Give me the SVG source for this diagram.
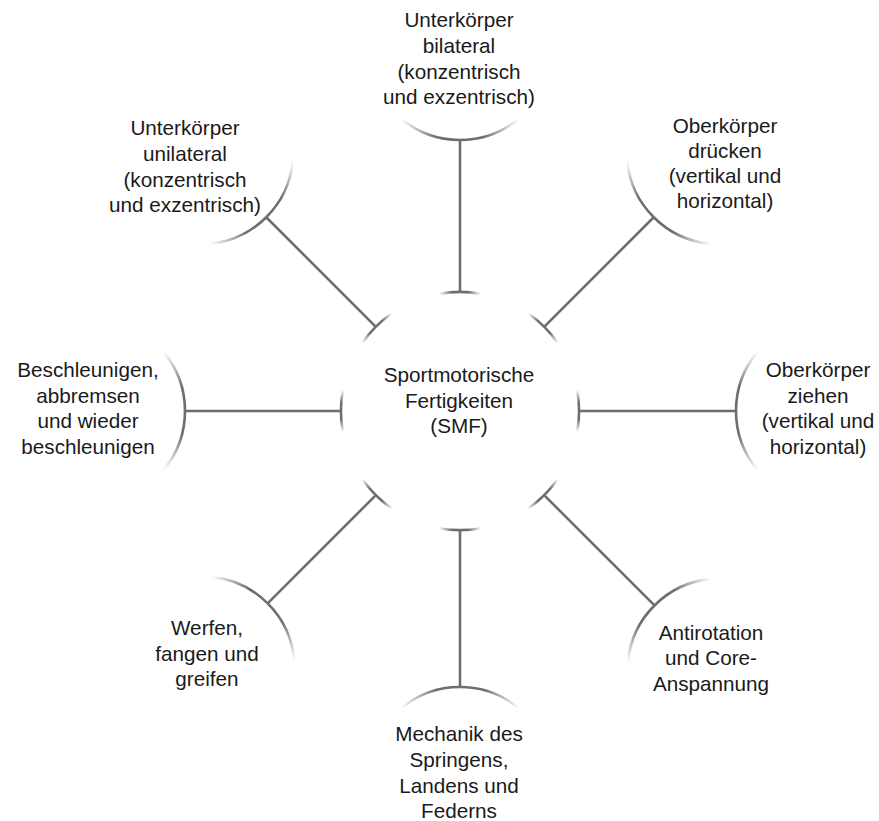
<svg xmlns="http://www.w3.org/2000/svg" width="879" height="821" viewBox="0 0 879 821">
<style>
.t{font-family:"Liberation Sans",Arial,Helvetica,sans-serif;font-size:20.7px;fill:#1a1a1a;text-anchor:middle}
.ln{stroke:#6e6e72;stroke-width:2.6;fill:none}
</style>
<defs>
<linearGradient id="fade" x1="0" y1="0" x2="0" y2="1">
<stop offset="0" stop-color="#6e6e72" stop-opacity="0"/>
<stop offset="0.3" stop-color="#6e6e72"/>
<stop offset="0.7" stop-color="#6e6e72"/>
<stop offset="1" stop-color="#6e6e72" stop-opacity="0"/>
</linearGradient>
<path id="outer" d="M295.5,-59.1 A92,92 0 0 0 295.5,59.1" fill="none" stroke="url(#fade)" stroke-width="2.6"/>
<path id="tick" d="M117.2,-21 A119,119 0 0 1 117.2,21" fill="none" stroke="url(#fade)" stroke-width="2.6"/>
</defs>
<rect width="879" height="821" fill="#ffffff"/>

<g id="connectors">
<g transform="translate(460,411) rotate(-90)"><use href="#tick"/><line class="ln" x1="119" y1="0" x2="271" y2="0"/></g>
<g transform="translate(460,411) rotate(-45)"><use href="#tick"/><line class="ln" x1="119" y1="0" x2="274" y2="0"/></g>
<g transform="translate(460,411) rotate(0)"><use href="#tick"/><line class="ln" x1="119" y1="0" x2="276" y2="0"/></g>
<g transform="translate(460,411) rotate(45)"><use href="#tick"/><line class="ln" x1="119" y1="0" x2="275" y2="0"/></g>
<g transform="translate(460,411) rotate(90)"><use href="#tick"/><line class="ln" x1="119" y1="0" x2="276" y2="0"/></g>
<g transform="translate(460,411) rotate(135)"><use href="#tick"/><line class="ln" x1="119" y1="0" x2="272" y2="0"/></g>
<g transform="translate(460,411) rotate(180)"><use href="#tick"/><line class="ln" x1="119" y1="0" x2="275" y2="0"/></g>
<g transform="translate(460,411) rotate(-135)"><use href="#tick"/><line class="ln" x1="119" y1="0" x2="274" y2="0"/></g>
</g>

<g id="center">
<text class="t" x="459" y="382">Sportmotorische</text>
<text class="t" x="459" y="408">Fertigkeiten</text>
<text class="t" x="459" y="433">(SMF)</text>
</g>

<g id="n-top">
<use href="#outer" transform="translate(460,411) rotate(-90) translate(-3,0)"/>
<text class="t" x="459" y="27">Unterkörper</text>
<text class="t" x="459" y="53">bilateral</text>
<text class="t" x="459" y="79">(konzentrisch</text>
<text class="t" x="459" y="104">und exzentrisch)</text>
</g>

<g id="n-upper-right">
<use href="#outer" transform="translate(460,411) rotate(-45)"/>
<text class="t" x="725" y="133">Oberkörper</text>
<text class="t" x="725" y="158">drücken</text>
<text class="t" x="725" y="183">(vertikal und</text>
<text class="t" x="725" y="208">horizontal)</text>
</g>

<g id="n-right">
<use href="#outer" transform="translate(460,411) rotate(0) translate(2,0)"/>
<text class="t" x="818" y="377">Oberkörper</text>
<text class="t" x="818" y="403">ziehen</text>
<text class="t" x="818" y="428">(vertikal und</text>
<text class="t" x="818" y="454">horizontal)</text>
</g>

<g id="n-lower-right">
<use href="#outer" transform="translate(460,411) rotate(45) translate(1,0)"/>
<text class="t" x="711" y="640">Antirotation</text>
<text class="t" x="711" y="665">und Core-</text>
<text class="t" x="711" y="691">Anspannung</text>
</g>

<g id="n-bottom">
<use href="#outer" transform="translate(460,411) rotate(90) translate(2,0)"/>
<text class="t" x="459" y="741">Mechanik des</text>
<text class="t" x="459" y="767">Springens,</text>
<text class="t" x="459" y="793">Landens und</text>
<text class="t" x="459" y="818">Federns</text>
</g>

<g id="n-lower-left">
<use href="#outer" transform="translate(460,411) rotate(135) translate(-2,0)"/>
<text class="t" x="207" y="635">Werfen,</text>
<text class="t" x="207" y="661">fangen und</text>
<text class="t" x="207" y="686">greifen</text>
</g>

<g id="n-left">
<use href="#outer" transform="translate(460,411) rotate(180) translate(1,0)"/>
<text class="t" x="88" y="377">Beschleunigen,</text>
<text class="t" x="88" y="403">abbremsen</text>
<text class="t" x="88" y="428">und wieder</text>
<text class="t" x="88" y="454">beschleunigen</text>
</g>

<g id="n-upper-left">
<use href="#outer" transform="translate(460,411) rotate(-135)"/>
<text class="t" x="185" y="135">Unterkörper</text>
<text class="t" x="185" y="161">unilateral</text>
<text class="t" x="185" y="187">(konzentrisch</text>
<text class="t" x="185" y="212">und exzentrisch)</text>
</g>
</svg>
